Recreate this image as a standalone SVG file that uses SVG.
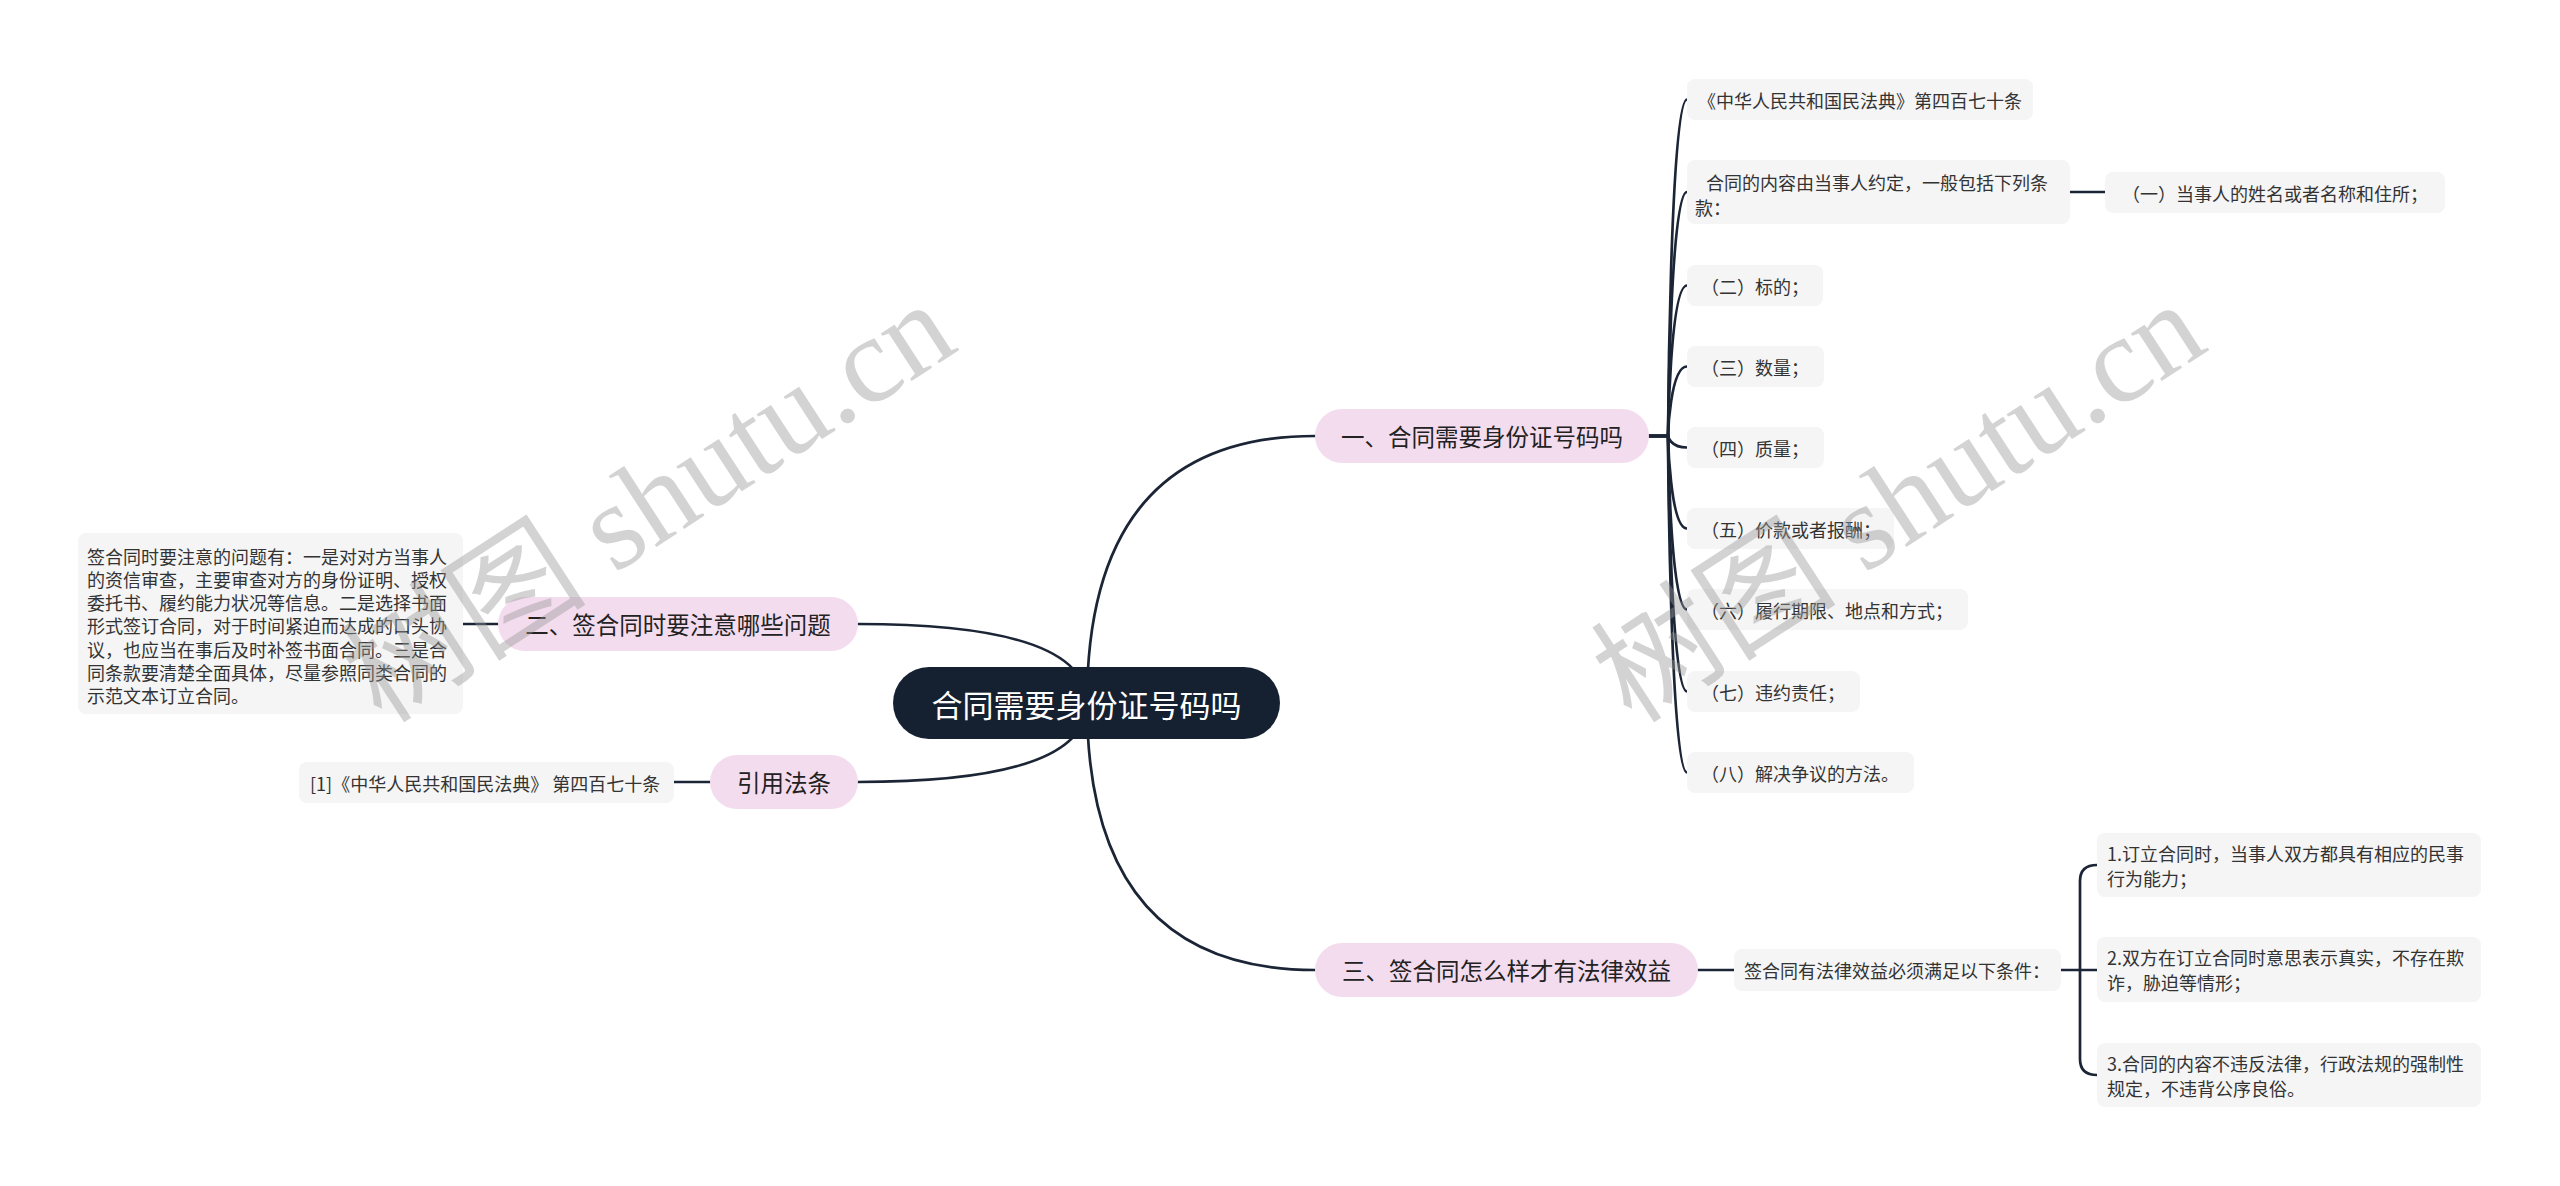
<svg xmlns="http://www.w3.org/2000/svg" width="2560" height="1186" viewBox="0 0 2560 1186">
<style>
text{font-family:"Noto Sans CJK SC","Noto Sans",sans-serif;dominant-baseline:central}
.conn path{fill:none;stroke:#1b2535;stroke-width:2.7;stroke-linecap:round}
.main rect{fill:#f4dcef}
.main text{font-size:23.5px;fill:#222;text-anchor:middle}
.box rect{fill:#f5f5f5}
.box text{font-size:18px;fill:#333}
.root rect{fill:#152131}
.root text{font-size:31px;fill:#fff;text-anchor:middle}
.wm{font-family:"Liberation Serif","Noto Sans CJK SC",serif;font-size:123px;fill:#969696;fill-opacity:0.42;dominant-baseline:alphabetic}
</style>
<rect width="2560" height="1186" fill="#fff"/>
<g id="connectors" class="conn">
<path d="M1087,703 Q1087,436 1315,436"/>
<path d="M1087,703 Q1087,624 858,624"/>
<path d="M1087,703 Q1087,782 858,782"/>
<path d="M1087,703 Q1087,970 1315,970"/>
<path d="M498,624 H463"/>
<path d="M710,782 H674"/>
<path d="M1649,436 H1668 C1668,436 1670,99.5 1687,99.5"/>
<path d="M1649,436 H1668 C1668,436 1670,192 1687,192"/>
<path d="M1649,436 H1668 C1668,436 1670,285.5 1687,285.5"/>
<path d="M1649,436 H1668 C1668,436 1670,366.5 1687,366.5"/>
<path d="M1649,436 H1668 C1668,436 1670,447.5 1687,447.5"/>
<path d="M1649,436 H1668 C1668,436 1670,528.5 1687,528.5"/>
<path d="M1649,436 H1668 C1668,436 1670,609.5 1687,609.5"/>
<path d="M1649,436 H1668 C1668,436 1670,691.5 1687,691.5"/>
<path d="M1649,436 H1668 C1668,436 1670,772.5 1687,772.5"/>
<path d="M2070,192 H2105"/>
<path d="M1698,970 H1734"/>
<path d="M2061,970 H2097"/>
<path d="M2080,970 V881 Q2080,865 2097,865"/>
<path d="M2080,970 V1059 Q2080,1075 2097,1075"/>
</g>
<g id="root" class="root"><rect x="893" y="667" width="387" height="72" rx="36"/><text x="1086.5" y="703">合同需要身份证号码吗</text></g>
<g id="n1" class="main"><rect x="1315" y="409" width="334" height="54" rx="27"/><text x="1482" y="436">一、合同需要身份证号码吗</text></g>
<g id="n2" class="main"><rect x="498" y="597" width="360" height="54" rx="27"/><text x="678" y="624">二、签合同时要注意哪些问题</text></g>
<g id="n3" class="main"><rect x="710" y="755" width="148" height="54" rx="27"/><text x="784" y="782">引用法条</text></g>
<g id="n4" class="main"><rect x="1315" y="943" width="383" height="54" rx="27"/><text x="1506.5" y="970">三、签合同怎么样才有法律效益</text></g>
<g id="d2" class="box"><rect x="78" y="533" width="385" height="181" rx="8"/>
<text x="87" y="555.5">签合同时要注意的问题有：一是对对方当事人</text>
<text x="87" y="578.8">的资信审查，主要审查对方的身份证明、授权</text>
<text x="87" y="602.1">委托书、履约能力状况等信息。二是选择书面</text>
<text x="87" y="625.4">形式签订合同，对于时间紧迫而达成的口头协</text>
<text x="87" y="648.7">议，也应当在事后及时补签书面合同。三是合</text>
<text x="87" y="672">同条款要清楚全面具体，尽量参照同类合同的</text>
<text x="87" y="695.3">示范文本订立合同。</text></g>
<g id="d3" class="box"><rect x="299" y="762" width="375" height="41" rx="8"/><text x="310" y="782.5">[1]《中华人民共和国民法典》 第四百七十条</text></g>
<g id="a1" class="box"><rect x="1687" y="79" width="346" height="41" rx="8"/><text x="1698" y="99.5">《中华人民共和国民法典》第四百七十条</text></g>
<g id="a2" class="box"><rect x="1687" y="160" width="383" height="64" rx="8"/><text x="1706" y="182">合同的内容由当事人约定，一般包括下列条</text><text x="1695" y="207">款：</text></g>
<g id="a21" class="box"><rect x="2105" y="172" width="340" height="41" rx="8"/><text x="2122" y="192.5">（一）当事人的姓名或者名称和住所；</text></g>
<g id="a3" class="box"><rect x="1687" y="265" width="136" height="41" rx="8"/><text x="1701" y="285.5">（二）标的；</text></g>
<g id="a4" class="box"><rect x="1687" y="346" width="137" height="41" rx="8"/><text x="1701" y="366.5">（三）数量；</text></g>
<g id="a5" class="box"><rect x="1687" y="427" width="137" height="41" rx="8"/><text x="1701" y="447.5">（四）质量；</text></g>
<g id="a6" class="box"><rect x="1687" y="508" width="207" height="41" rx="8"/><text x="1701" y="528.5">（五）价款或者报酬；</text></g>
<g id="a7" class="box"><rect x="1687" y="589" width="281" height="41" rx="8"/><text x="1701" y="609.5">（六）履行期限、地点和方式；</text></g>
<g id="a8" class="box"><rect x="1687" y="671" width="173" height="41" rx="8"/><text x="1701" y="691.5">（七）违约责任；</text></g>
<g id="a9" class="box"><rect x="1687" y="752" width="227" height="41" rx="8"/><text x="1701" y="772.5">（八）解决争议的方法。</text></g>
<g id="c1" class="box"><rect x="1734" y="949" width="327" height="42" rx="8"/><text x="1744" y="970">签合同有法律效益必须满足以下条件：</text></g>
<g id="c11" class="box"><rect x="2097" y="833" width="384" height="64" rx="8"/><text x="2107" y="853">1.订立合同时，当事人双方都具有相应的民事</text><text x="2107" y="878">行为能力；</text></g>
<g id="c12" class="box"><rect x="2097" y="937" width="384" height="65" rx="8"/><text x="2107" y="957">2.双方在订立合同时意思表示真实，不存在欺</text><text x="2107" y="982">诈，胁迫等情形；</text></g>
<g id="c13" class="box"><rect x="2097" y="1043" width="384" height="64" rx="8"/><text x="2107" y="1063">3.合同的内容不违反法律，行政法规的强制性</text><text x="2107" y="1088">规定，不违背公序良俗。</text></g>
<g id="watermark">
<text class="wm" transform="translate(382,725) rotate(-33)">树图 shutu.cn</text>
<text class="wm" transform="translate(1632,725) rotate(-33)">树图 shutu.cn</text>
</g>
</svg>
